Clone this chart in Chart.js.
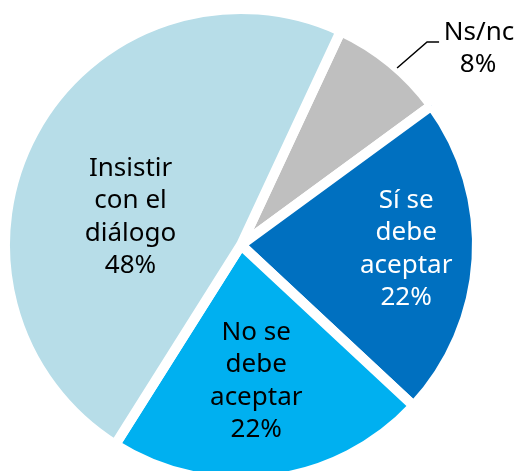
<!DOCTYPE html>
<html>
<head>
<meta charset="utf-8">
<script src="https://cdn.jsdelivr.net/npm/chart.js@4"></script>
<style>
  html, body { margin: 0; padding: 0; background: #fff; }
  #wrap { width: 518px; height: 471px; position: relative; }
</style>
</head>
<body>
<div id="wrap"><canvas id="pieChart"></canvas></div>
<script>
const categories = ["Ns/nc", "Sí se debe aceptar", "No se debe aceptar", "Insistir con el diálogo"];
const labelLines = [["Ns/nc", "8%"], ["Sí se", "debe", "aceptar", "22%"], ["No se", "debe", "aceptar", "22%"], ["Insistir", "con el", "diálogo", "48%"]];
const values = [8, 22, 22, 48];
const colors = ["#BFBFBF", "#0070C0", "#00B0F0", "#B7DDE8"];
const textColors = ["#000000", "#FFFFFF", "#000000", "#000000"];

// label placement: [fraction of radius, angle nudge in degrees]
const labelPlace = [null, [0.70, -2], [0.58, 1], [0.483, -14.3]];

const sliceLabels = {
    id: "sliceLabels",
    afterDatasetsDraw(chart) {
        const ctx = chart.ctx;
        const arcs = chart.getDatasetMeta(0).data;
        ctx.save();
        ctx.font = "26px 'Noto Sans'";
        ctx.textAlign = "center";
        ctx.textBaseline = "middle";
        const lh = 32.5;
        arcs.forEach((arc, i) => {
            const lines = labelLines[i];
            const mid = (arc.startAngle + arc.endAngle) / 2;
            if (labelPlace[i]) {
                const a = mid + labelPlace[i][1] * Math.PI / 180;
                const r = arc.outerRadius * labelPlace[i][0];
                const x = arc.x + Math.cos(a) * r;
                const y = arc.y + Math.sin(a) * r;
                ctx.fillStyle = textColors[i];
                lines.forEach((t, k) => {
                    ctx.fillText(t, x, y + (k - (lines.length - 1) / 2) * lh);
                });
            } else {
                // outside label with leader line
                const a = mid + 2 * Math.PI / 180;
                const x0 = arc.x + Math.cos(a) * arc.outerRadius;
                const y0 = arc.y + Math.sin(a) * arc.outerRadius;
                const x1 = x0 + 30;
                const y1 = y0 - 26;
                ctx.strokeStyle = "#000";
                ctx.lineWidth = 1.5;
                ctx.beginPath();
                ctx.moveTo(x0, y0);
                ctx.lineTo(x1, y1);
                ctx.lineTo(x1 + 12, y1);
                ctx.stroke();
                ctx.fillStyle = textColors[i];
                ctx.fillText(lines[0], x1 + 52, y1 - 9);
                ctx.fillText(lines[1], x1 + 51, y1 + 23);
            }
        });
        ctx.restore();
    }
};

new Chart(document.getElementById("pieChart"), {
    type: "pie",
    data: {
        labels: categories,
        datasets: [{
            data: values,
            backgroundColor: colors,
            borderColor: "#FFFFFF",
            borderWidth: 10,
            clip: false
        }]
    },
    options: {
        responsive: true,
        maintainAspectRatio: false,
        animation: false,
        rotation: 25,
        radius: 236,
        layout: { padding: { left: 0, right: 36, top: 19, bottom: 0 } },
        plugins: {
            legend: { display: false },
            tooltip: { enabled: false }
        }
    },
    plugins: [sliceLabels]
});
</script>
</body>
</html>
